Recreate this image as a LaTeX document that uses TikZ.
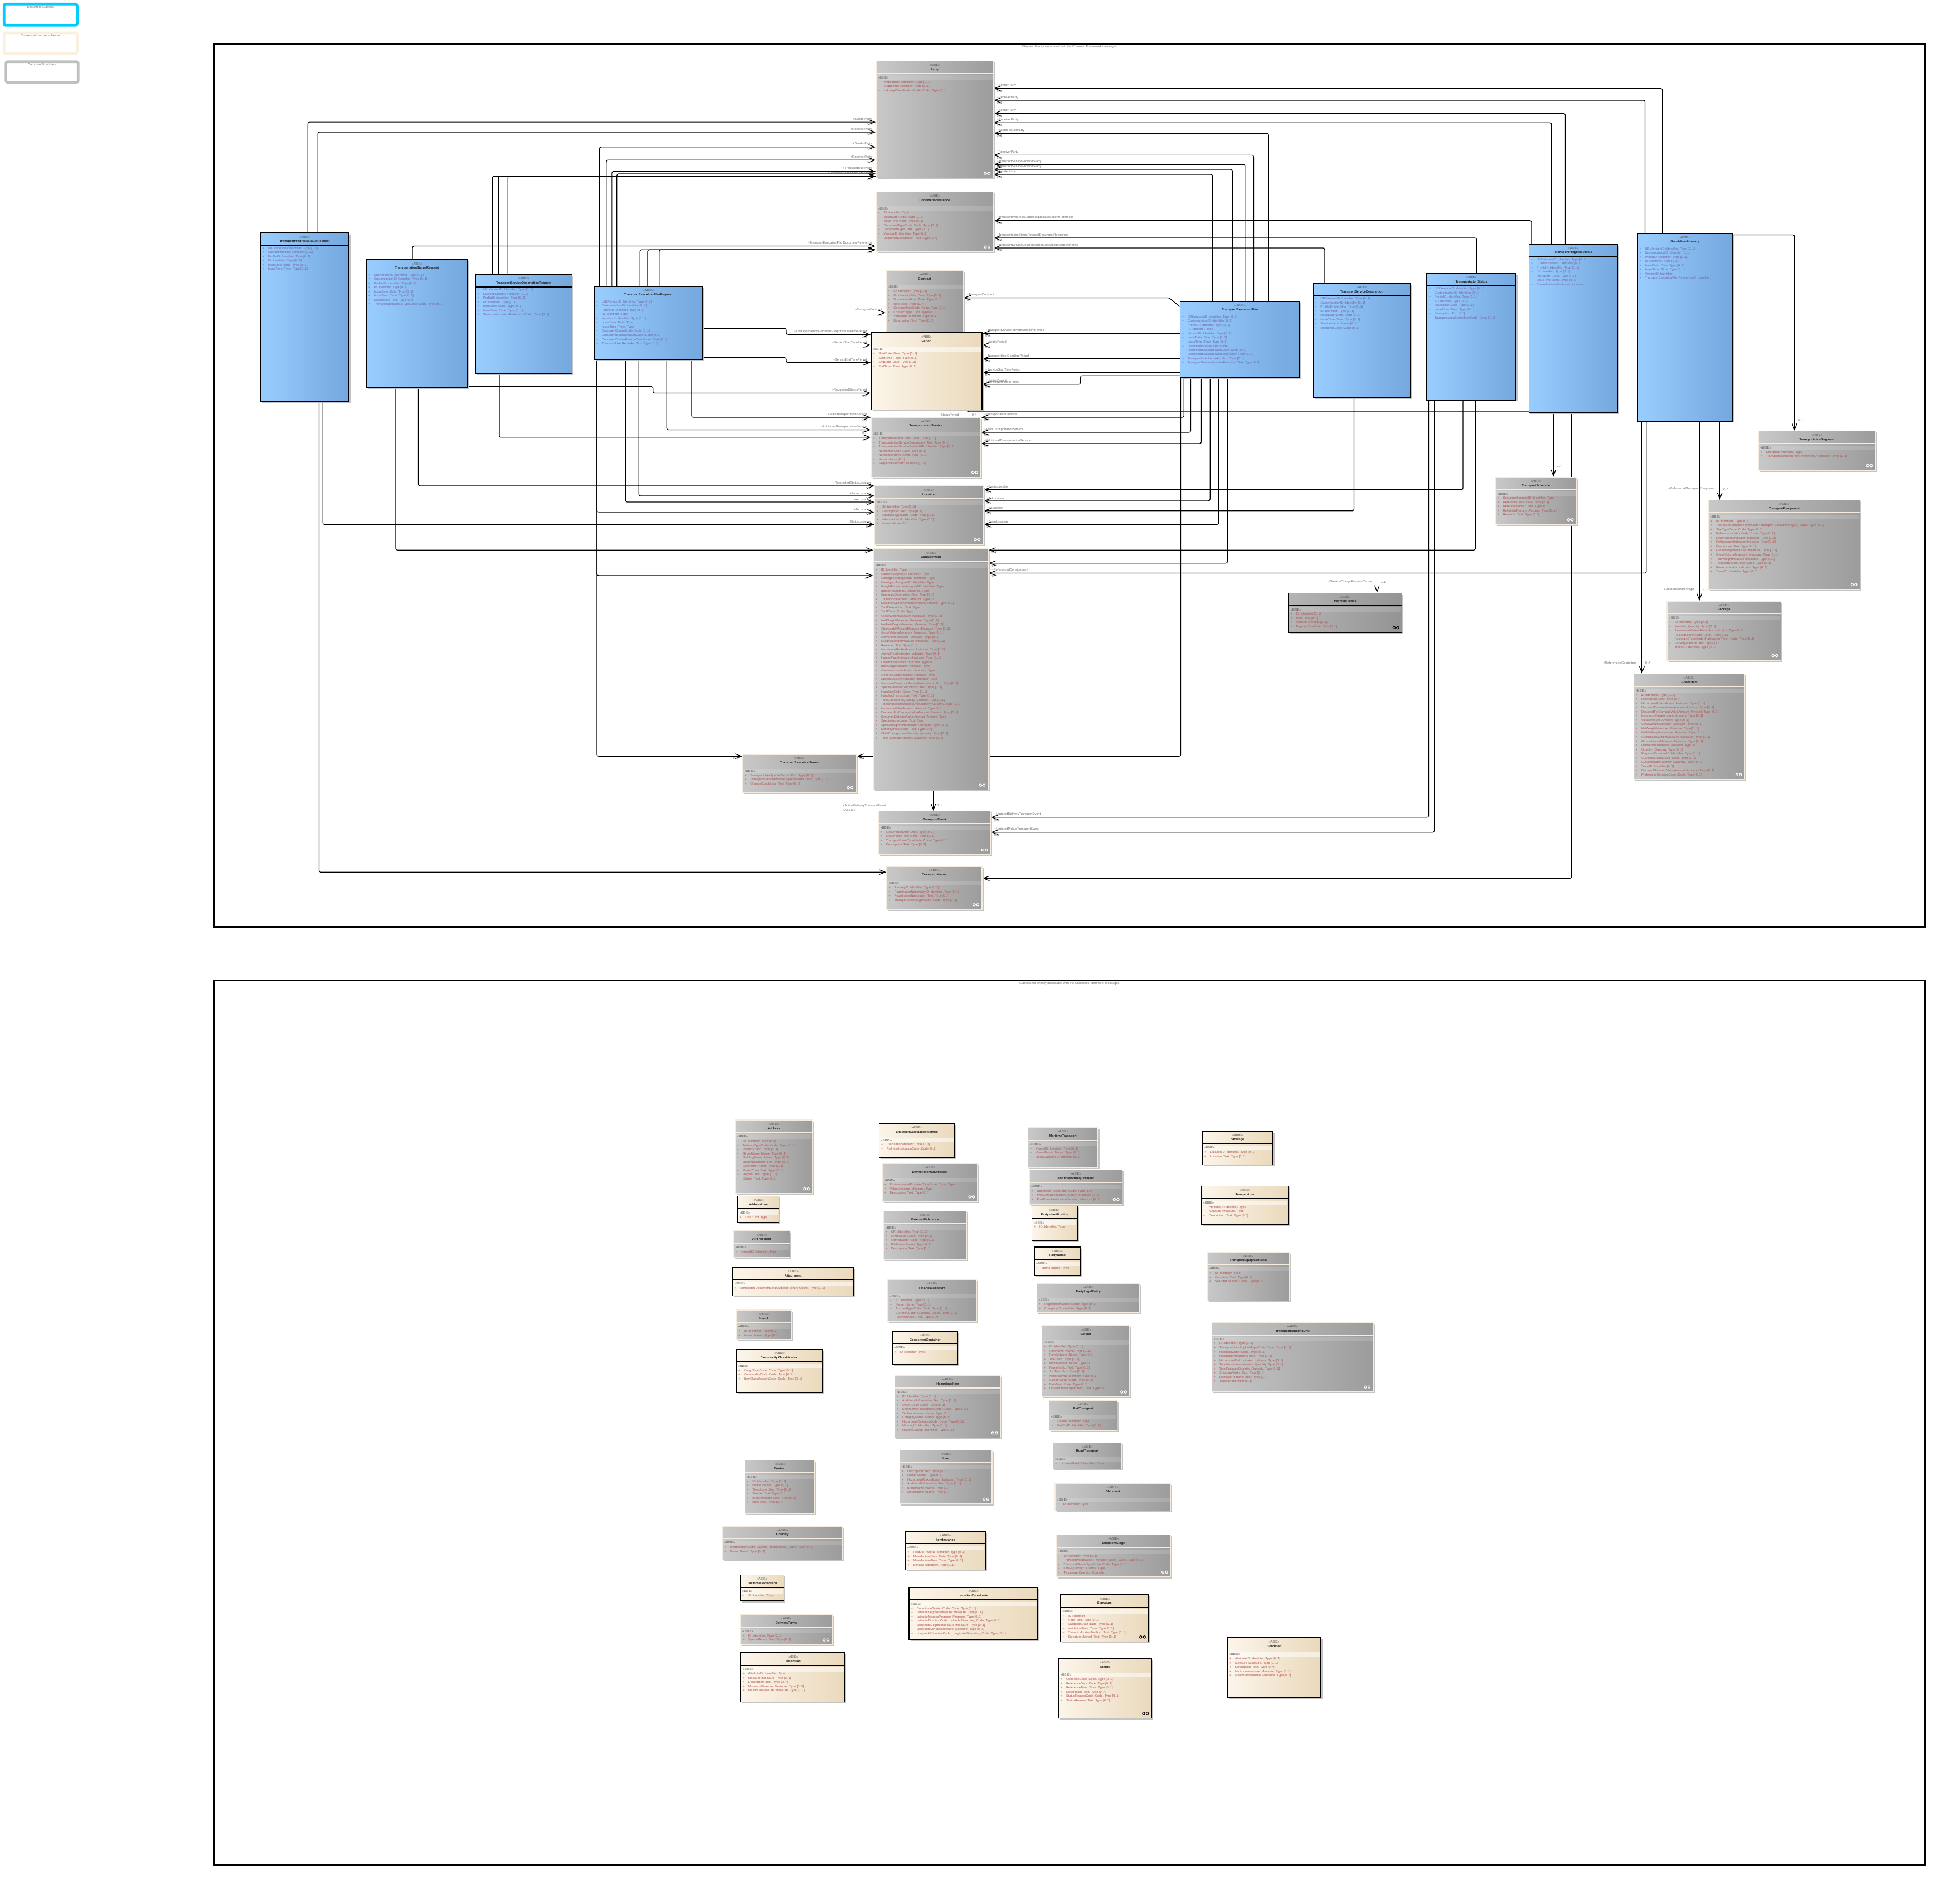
\documentclass[tikz,border=0pt]{standalone}
\usepackage{fontspec}
\setmainfont{Liberation Sans}
\usetikzlibrary{arrows.meta,fit}
\definecolor{blueL}{HTML}{9ACDFF}
\definecolor{blueR}{HTML}{74A8DE}
\definecolor{grayL}{HTML}{C8C8C8}
\definecolor{grayR}{HTML}{9C9C9C}
\definecolor{darkL}{HTML}{B4B4B4}
\definecolor{darkR}{HTML}{949494}
\definecolor{beigeL}{HTML}{FCF5EA}
\definecolor{beigeR}{HTML}{EAD9BC}
\definecolor{edgec}{HTML}{F4ECDE}
\definecolor{shadowc}{HTML}{C4C4C4}
\definecolor{battrc}{HTML}{7468A4}
\definecolor{gattrc}{HTML}{B25656}
\definecolor{stereoc}{HTML}{555555}
\definecolor{namec}{HTML}{222222}
\definecolor{labc}{HTML}{6E6E6E}
\definecolor{legcyan}{HTML}{00CCFF}
\definecolor{legbeige}{HTML}{FAF0E1}
\definecolor{leggray}{HTML}{C0C0C0}
\newcommand\fa{\fontsize{1.6}{1.9}\selectfont}
\pgfdeclarelayer{bg}
\pgfsetlayers{bg,main}
\def\startB{12.3}
\def\startG{17}
\def\startY{17}
\def\startD{17}
\tikzset{
 stereo/.style={font=\fa, text=stereoc, inner sep=0pt},
 cname/.style={font=\fa\bfseries, text=namec, inner sep=0pt},
 Battr/.style={font=\fa, text=battrc, inner sep=0pt},
 Gattr/.style={font=\fa, text=gattrc, inner sep=0pt},
 Yattr/.style={font=\fa, text=gattrc, inner sep=0pt},
 Dattr/.style={font=\fa, text=gattrc, inner sep=0pt},
 Bbbie/.style={font=\fa, text opacity=0, inner sep=0pt},
 Gbbie/.style={font=\fa, text=stereoc, inner sep=0pt},
 Ybbie/.style={font=\fa, text=stereoc, inner sep=0pt},
 Dbbie/.style={font=\fa, text=stereoc, inner sep=0pt},
 Bband/.style={},
 Gband/.style={fill=white, fill opacity=0.15},
 Yband/.style={fill=white, fill opacity=0.55},
 Dband/.style={fill=white, fill opacity=0.15},
 Bsep/.style={draw=black, line width=0.4pt},
 Gsep/.style={draw=edgec, line width=0.4pt},
 Ysep/.style={draw=black, line width=0.4pt},
 Dsep/.style={draw=black, line width=0.4pt},
 Bborder/.style={draw=black, line width=0.45pt},
 Gborder/.style={draw=edgec, line width=0.4pt},
 Yborder/.style={draw=black, line width=0.45pt},
 Dborder/.style={draw=black, line width=0.45pt},
 Bfill/.style={left color=blueL, right color=blueR},
 Gfill/.style={left color=grayL, right color=grayR},
 Yfill/.style={left color=beigeL, right color=beigeR},
 Dfill/.style={left color=darkL, right color=darkR},
 assoc/.style={draw=black, line width=0.35pt, -{Straight Barb[length=1.1mm,width=0.85mm]}, rounded corners=0.3mm},
 lab/.style={font=\fa, text=labc, inner sep=0.2mm},
 ftitle/.style={font=\fa, text=labc, inner sep=0pt},
}
\newcommand\iconxy[3]{%
 \draw[#3, line width=0.3pt] ({#1-6.3},{#2-3.8}) circle[radius=0.22mm] ({#1-3.4},{#2-3.8}) circle[radius=0.22mm];
 \draw[#3, line width=0.3pt] ({#1-5.3},{#2-3.8}) -- ({#1-4.4},{#2-3.8});}
\newcommand\clsbox[9]{%
 \fill[shadowc] ({#3+1.2},{#4+1.2}) rectangle ({#5+1.2},{#6+1.2});
 \shade[#1fill] (#3,#4) rectangle (#5,#6);
 \path[#1band] ({#3+0.7},{#4+11.6}) rectangle ({#5-0.7},{#4+15});
 \draw[#1sep] (#3,{#4+10}) -- (#5,{#4+10});
 \node[#1border, fit={(#3,#4)(#5,#6)}, inner sep=0pt] (#2) {};
 \node[stereo] at ({(#3+#5)/2},{#4+3.2}) {«ABIE»};
 \node[cname] at ({(#3+#5)/2},{#4+6.8}) {#7};
 \node[#1bbie, anchor=west] at ({#3+1.2},{#4+13.3}) {«BBIE»};
 \pgfmathsetmacro\ystart{#4+\csname start#1\endcsname}
 \foreach \t [count=\i from 0] in {#8} {\node[#1attr, anchor=west] at ({#3+1.3},{\ystart+\i*3.37}) {\makebox[1mm][l]{+}\t};}
 \ifcase#9\relax\or\iconxy{#5}{#6}{white}\or\iconxy{#5}{#6}{black}\fi
}
\newcommand\inL[5]{\draw[assoc] #3 (#1.west |- 0,#2);
 \path (#1.west |- 0,#2) node[lab, anchor=south east, xshift=-0.4mm] {#4} node[lab, anchor=north east, xshift=-0.4mm] {#5};}
\newcommand\inR[5]{\draw[assoc] #3 (#1.east |- 0,#2);
 \path (#1.east |- 0,#2) node[lab, anchor=south west, xshift=0.3mm] {#4} node[lab, anchor=north west, xshift=0.3mm] {#5};}
\newcommand\inT[5]{\draw[assoc] #3 (#1.north -| #2,0);
 \path (#1.north -| #2,0) ++(-3,-6.5) node[lab, anchor=south east] {#4} ++(4.5,0) node[lab, anchor=south west] {#5};}
\begin{document}
\begin{tikzpicture}[x=0.2236mm,y=-0.2236mm]
\useasboundingbox (0,0) rectangle (1568,1528);
% legend
\draw[draw=legcyan, line width=0.47mm, rounded corners=0.3mm] (3.25,3.25) rectangle (61.9,20.3);
\node[ftitle] (lg1) at (32.4,5.4) {Document Classes};
\draw[draw=legbeige, line width=0.47mm, rounded corners=0.3mm] (3.25,26.4) rectangle (61.9,43.1);
\node[ftitle] (lg2) at (32.4,28.2) {Classes with no sub-classes};
\draw[draw=leggray, line width=0.47mm, rounded corners=0.3mm] (4.75,49.5) rectangle (62.75,66.1);
\node[ftitle] (lg3) at (33.6,51.5) {Common Structures};
% frames
\draw[line width=0.3mm] (172,35) rectangle (1545,744);
\node[ftitle] (t1) at (858.5,37.4) {Classes directly associated with the Common Framework messages.};
\draw[line width=0.3mm] (172,787) rectangle (1545,1497);
\node[ftitle] (t2) at (858.5,789.4) {Classes not directly associated with the Common Framework messages.};

% ===== top frame classes =====
\clsbox{G}{party}{703}{49}{797}{143}{Party}{WebsiteURI :Identifier. Type [0..1], EndpointID :Identifier. Type [0..1], IndustryClassificationCode :Code. Type [0..1]}{1}
\clsbox{G}{docref}{703}{154}{797}{202}{DocumentReference}{ID :Identifier. Type, IssueDate :Date. Type [0..1], IssueTime :Time. Type [0..1], DocumentTypeCode :Code. Type [0..1], DocumentType :Text. Type [0..1], VersionID :Identifier. Type [0..1], DocumentDescription :Text. Type [0..*]}{1}
\clsbox{G}{contract}{711}{217}{773}{266.5}{Contract}{ID :Identifier. Type [0..1], NominationDate :Date. Type [0..1], NominationTime :Time. Type [0..1], Note :Text. Type [0..*], ContractTypeCode :Code. Type [0..1], ContractType :Text. Type [0..1], VersionID :Identifier. Type [0..1], Description :Text. Type [0..*]}{0}
\clsbox{Y}{period}{699}{267}{788}{329}{Period}{StartDate :Date. Type [0..1], StartTime :Time. Type [0..1], EndDate :Date. Type [0..1], EndTime :Time. Type [0..1]}{0}
\clsbox{G}{tsvc}{699}{335}{787}{383}{TransportationService}{TransportServiceCode :Code. Type [0..1], TransportationServiceDescription :Text. Type [0..1], TransportationServiceDetailsURI :Identifier. Type [0..1], NominationDate :Date. Type [0..1], NominationTime :Time. Type [0..1], Name :Name [0..1], SequenceNumeric :Numeric [0..1]}{1}
\clsbox{G}{location}{702}{390}{789}{437}{Location}{ID :Identifier. Type [0..1], Description :Text. Type [0..1], LocationTypeCode :Code. Type [0..1], InformationURI :Identifier. Type [0..1], Name :Name [0..1]}{1}
\clsbox{G}{consignment}{701}{440.6}{793}{634}{Consignment}{ID :Identifier. Type, CarrierAssignedID :Identifier. Type, ConsigneeAssignedID :Identifier. Type, ConsignorAssignedID :Identifier. Type, FreightForwarderAssignedID :Identifier. Type, BrokerAssignedID :Identifier. Type, SummaryDescription :Text. Type [0..*], TotalInvoiceAmount :Amount. Type [0..1], DeclaredCustomsValueAmount :Amount. Type [0..1], TariffDescription :Text. Type, TariffCode :Code. Type, GrossWeightMeasure :Measure. Type [0..1], NetWeightMeasure :Measure. Type [0..1], NetNetWeightMeasure :Measure. Type [0..1], ChargeableWeightMeasure :Measure. Type [0..1], GrossVolumeMeasure :Measure. Type [0..1], NetVolumeMeasure :Measure. Type [0..1], LoadingLengthMeasure :Measure. Type [0..1], Remarks :Text. Type [0..*], HazardousRiskIndicator :Indicator. Type [0..1], AnimalFoodIndicator :Indicator. Type [0..1], HumanFoodIndicator :Indicator. Type [0..1], LivestockIndicator :Indicator. Type [0..1], BulkCargoIndicator :Indicator. Type, ContainerizedIndicator :Indicator. Type, GeneralCargoIndicator :Indicator. Type, SpecialSecurityIndicator :Indicator. Type, CustomsClearanceServiceInstructions :Text. Type [0..1], SpecialServiceInstructions :Text. Type [0..1], HandlingCode :Code. Type [0..1], HandlingInstructions :Text. Type [0..1], TotalGoodsItemQuantity :Quantity. Type [0..1], TotalTransportHandlingUnitQuantity :Quantity. Type [0..1], InsuranceValueAmount :Amount. Type [0..1], DeclaredForCarriageValueAmount :Amount. Type [0..1], DeclaredStatisticsValueAmount :Amount. Type, SpecialInstructions :Text. Type, SplitConsignmentIndicator :Indicator. Type [0..1], DeliveryInstructions :Text. Type [0..*], ChildConsignmentQuantity :Quantity. Type [0..1], TotalPackagesQuantity :Quantity. Type [0..1]}{1}
\clsbox{G}{tet}{596}{605.5}{687}{636}{TransportExecutionTerms}{TransportUserSpecialTerms :Text. Type [0..*], TransportServiceProviderSpecialTerms :Text. Type [0..*], ChangeConditions :Text. Type [0..*]}{1}
\clsbox{G}{tevent}{705}{651}{795}{686}{TransportEvent}{OccurrenceDate :Date. Type [0..1], OccurrenceTime :Time. Type [0..1], TransportEventTypeCode :Code. Type [0..1], Description :Text. Type [0..1]}{1}
\clsbox{G}{tmeans}{711.5}{695.5}{788}{730}{TransportMeans}{JourneyID :Identifier. Type [0..1], RegistrationNationalityID :Identifier. Type [0..1], RegistrationNationality :Text. Type [0..*], TransportMeansTypeCode :Code. Type [0..1]}{1}

\clsbox{B}{tpsr}{209}{187}{280}{322}{TransportProgressStatusRequest}{UBLVersionID :Identifier. Type [0..1], CustomizationID :Identifier [0..1], ProfileID :Identifier. Type [0..1], ID :Identifier. Type [0..1], IssueDate :Date. Type [0..1], IssueTime :Time. Type [0..1]}{0}
\clsbox{B}{tsr}{294}{208.5}{375}{311}{TransportationStatusRequest}{UBLVersionID :Identifier. Type [0..1], CustomizationID :Identifier. Type [0..1], ProfileID :Identifier. Type [0..1], ID :Identifier. Type [0..1], IssueDate :Date. Type [0..1], IssueTime :Time. Type [0..1], Description :Text. Type [0..*], TransportationStatusTypeCode :Code. Type [0..1]}{0}
\clsbox{B}{tsdr}{381.6}{220.4}{459}{299.6}{TransportServiceDescriptionRequest}{UBLVersionID :Identifier. Type [0..1], CustomizationID :Identifier [0..1], ProfileID :Identifier. Type [0..1], ID :Identifier. Type [0..1], IssueDate :Date. Type [0..1], IssueTime :Time. Type [0..1], ServiceInformationPreferenceCode :Code [0..1]}{0}
\clsbox{B}{tepr}{477}{230}{563.5}{288.5}{TransportExecutionPlanRequest}{UBLVersionID :Identifier. Type [0..1], CustomizationID :Identifier [0..1], ProfileID :Identifier. Type [0..1], ID :Identifier. Type, VersionID :Identifier. Type [0..1], IssueDate :Date. Type, IssueTime :Time. Type, DocumentStatusCode :Code [0..1], DocumentStatusReasonCode :Code [0..1], DocumentStatusReasonDescription :Text [0..1], TransportUserRemarks :Text. Type [0..*]}{0}
\clsbox{B}{tep}{947}{242}{1043}{303}{TransportExecutionPlan}{UBLVersionID :Identifier. Type [0..1], CustomizationID :Identifier [0..1], ProfileID :Identifier. Type [0..1], ID :Identifier. Type, VersionID :Identifier. Type [0..1], IssueDate :Date. Type [0..1], IssueTime :Time. Type [0..1], DocumentStatusCode :Code, DocumentStatusReasonCode :Code [0..1], DocumentStatusReasonDescription :Text [0..1], TransportUserRemarks :Text. Type [0..*], TransportServiceProviderRemarks :Text. Type [0..*]}{0}
\clsbox{B}{tsd}{1053.6}{227.5}{1132}{319}{TransportServiceDescription}{UBLVersionID :Identifier. Type [0..1], CustomizationID :Identifier [0..1], ProfileID :Identifier. Type [0..1], ID :Identifier. Type [0..1], IssueDate :Date. Type [0..1], IssueTime :Time. Type [0..1], ServiceName :Name [0..1], ResponseCode :Code [0..1]}{0}
\clsbox{B}{ts}{1145}{219.5}{1216.5}{321}{TransportationStatus}{UBLVersionID :Identifier. Type [0..1], CustomizationID :Identifier [0..1], ProfileID :Identifier. Type [0..1], ID :Identifier. Type [0..1], IssueDate :Date. Type [0..1], IssueTime :Time. Type [0..1], Description :Text [0..*], TransportationStatusTypeCode :Code [0..1]}{0}
\clsbox{B}{tps}{1227}{196}{1298}{331}{TransportProgressStatus}{UBLVersionID :Identifier. Type [0..1], CustomizationID :Identifier [0..1], ProfileID :Identifier. Type [0..1], ID :Identifier. Type [0..1], IssueDate :Date. Type [0..1], IssueTime :Time. Type [0..1], StatusAvailableIndicator :Indicator}{0}
\clsbox{B}{gii}{1314}{187.5}{1390}{338}{GoodsItemItinerary}{UBLVersionID :Identifier. Type [0..1], CustomizationID :Identifier [0..1], ProfileID :Identifier. Type [0..1], ID :Identifier. Type [0..1], IssueDate :Date. Type [0..1], IssueTime :Time. Type [0..1], VersionID :Identifier, TransportExecutionPlanReferenceID :Identifier}{0}

\clsbox{G}{tseg}{1411}{346}{1505}{377.5}{TransportationSegment}{Sequence :Numeric. Type, TransportExecutionPlanReferenceID :Identifier. Type [0..1]}{1}
\clsbox{G}{tsched}{1200}{383}{1265}{421}{TransportSchedule}{SequenceNumberID :Identifier. Type, ReferenceDate :Date. Type [0..1], ReferenceTime :Time. Type [0..1], ReliabilityPercent :Percent. Type [0..1], Remarks :Text. Type [0..*]}{1}
\clsbox{G}{tequip}{1371}{401.5}{1492.6}{473}{TransportEquipment}{ID :Identifier. Type [0..1], TransportEquipmentTypeCode :Transport Equipment Type\_ Code. Type [0..1], SizeTypeCode :Code. Type [0..1], FullnessIndicationCode :Code. Type [0..1], ReturnabilityIndicator :Indicator. Type [0..1], RefrigeratedIndicator :Indicator. Type [0..1], Description :Text. Type [0..1], GrossWeightMeasure :Measure. Type [0..1], GrossVolumeMeasure :Measure. Type [0..1], TareWeightMeasure :Measure. Type [0..1], TrackingDeviceCode :Code. Type [0..1], PowerIndicator :Indicator. Type [0..1], TraceID :Identifier. Type [0..1]}{1}
\clsbox{D}{payterms}{1034}{476}{1125}{507.6}{PaymentTerms}{ID :Identifier [0..1], Note :Text [0..*], Amount :Amount [0..1], PaymentDueDate :Date [0..1]}{2}
\clsbox{G}{package}{1337.7}{482.6}{1429}{530}{Package}{ID :Identifier. Type [0..1], Quantity :Quantity. Type [0..1], ReturnableMaterialIndicator :Indicator. Type [0..1], PackageLevelCode :Code. Type [0..1], PackagingTypeCode :Packaging Type\_ Code. Type [0..1], PackingMaterial :Text. Type [0..*], TraceID :Identifier. Type [0..1]}{1}
\clsbox{G}{goodsitem}{1311}{541}{1400}{625.7}{GoodsItem}{ID :Identifier. Type [0..1], Description :Text. Type [0..*], HazardousRiskIndicator :Indicator. Type [0..1], DeclaredCustomsValueAmount :Amount. Type [0..1], DeclaredForCarriageValueAmount :Amount. Type [0..1], InsuranceValueAmount :Amount. Type [0..1], ValueAmount :Amount. Type [0..1], GrossWeightMeasure :Measure. Type [0..1], NetWeightMeasure :Measure. Type [0..1], NetNetWeightMeasure :Measure. Type [0..1], ChargeableWeightMeasure :Measure. Type [0..1], GrossVolumeMeasure :Measure. Type [0..1], NetVolumeMeasure :Measure. Type [0..1], Quantity :Quantity. Type [0..1], RequiredCustomsID :Identifier. Type [0..1], CustomsStatusCode :Code. Type [0..1], CustomsTariffQuantity :Quantity. Type [0..1], TraceID :Identifier [0..1], DeclaredStatisticsValueAmount :Amount. Type [0..1], PreferenceCriterionCode :Code. Type [0..1]}{1}

% ===== bottom frame classes =====
\clsbox{G}{address}{590}{899}{652}{958}{Address}{ID :Identifier. Type [0..1], AddressTypeCode :Code. Type [0..1], Postbox :Text. Type [0..1], StreetName :Name. Type [0..1], BuildingName :Name. Type [0..1], BuildingNumber :Text. Type [0..1], CityName :Name. Type [0..1], PostalZone :Text. Type [0..1], Region :Text. Type [0..1], District :Text. Type [0..1]}{1}
\clsbox{Y}{addressline}{592}{960}{625}{981}{AddressLine}{Line :Text. Type}{0}
\clsbox{G}{airtransport}{588.6}{988}{634}{1009}{AirTransport}{AircraftID :Identifier. Type}{0}
\clsbox{Y}{attachment}{588}{1017}{685}{1040}{Attachment}{EmbeddedDocumentBinaryObject :Binary Object. Type [0..1]}{0}
\clsbox{G}{branch}{591}{1051.5}{635}{1075}{Branch}{ID :Identifier. Type [0..1], Name :Name. Type [0..1]}{0}
\clsbox{Y}{commodity}{591}{1083}{660}{1117.6}{CommodityClassification}{CargoTypeCode :Code. Type [0..1], CommodityCode :Code. Type [0..1], ItemClassificationCode :Code. Type [0..1]}{0}
\clsbox{G}{contact}{597.8}{1172}{653.7}{1215}{Contact}{ID :Identifier. Type [0..1], Name :Name. Type [0..1], Telephone :Text. Type [0..1], Telefax :Text. Type [0..1], ElectronicMail :Text. Type [0..1], Note :Text. Type [0..*]}{0}
\clsbox{G}{country}{579.6}{1225}{676}{1252}{Country}{IdentificationCode :Country Identification\_ Code. Type [0..1], Name :Name. Type [0..1]}{0}
\clsbox{Y}{customsdecl}{594}{1264}{629}{1285}{CustomsDeclaration}{ID :Identifier. Type}{0}
\clsbox{G}{deliveryterms}{594.4}{1296}{667.7}{1320}{DeliveryTerms}{ID :Identifier. Type [0..1], SpecialTerms :Text. Type [0..1]}{1}
\clsbox{Y}{dimension}{594.4}{1326.5}{677.8}{1366}{Dimension}{AttributeID :Identifier. Type, Measure :Measure. Type [0..1], Description :Text. Type [0..*], MinimumMeasure :Measure. Type [0..1], MaximumMeasure :Measure. Type [0..1]}{0}
\clsbox{Y}{emission}{705.5}{901.8}{766}{929}{EmissionCalculationMethod}{CalculationMethod :Code [0..1], FullnessIndicationCode :Code [0..1]}{0}
\clsbox{G}{envemission}{708}{934}{784.5}{964.4}{EnvironmentalEmission}{EnvironmentalEmissionTypeCode :Code. Type, ValueMeasure :Measure. Type, Description :Text. Type [0..*]}{1}
\clsbox{G}{extref}{709}{972}{775.7}{1011}{ExternalReference}{URI :Identifier. Type [0..1], MimeCode :Code. Type [0..1], FormatCode :Code. Type [0..1], FileName :Name. Type [0..1], Description :Text. Type [0..*]}{0}
\clsbox{G}{finaccount}{712.5}{1027}{783.6}{1060.5}{FinancialAccount}{ID :Identifier. Type [0..1], Name :Name. Type [0..1], AccountTypeCode :Code. Type [0..1], CurrencyCode :Currency\_ Code. Type [0..1], PaymentNote :Text. Type [0..*]}{0}
\clsbox{Y}{gicontainer}{716}{1068.5}{768.6}{1095}{GoodsItemContainer}{ID :Identifier. Type}{0}
\clsbox{G}{hazitem}{718}{1104}{803}{1154}{HazardousItem}{ID :Identifier. Type [0..1], AdditionalInformation :Text. Type [0..1], UNDGCode :Code. Type [0..1], EmergencyProceduresCode :Code. Type [0..1], TechnicalName :Name. Type [0..1], CategoryName :Name. Type [0..1], HazardousCategoryCode :Code. Type [0..1], MarkingID :Identifier. Type [0..1], HazardClassID :Identifier. Type [0..1]}{1}
\clsbox{G}{item}{722}{1164}{796}{1207}{Item}{Description :Text. Type [0..*], Name :Name. Type [0..1], HazardousRiskIndicator :Indicator. Type [0..1], AdditionalInformation :Text. Type [0..1], BrandName :Name. Type [0..*], ModelName :Name. Type [0..*]}{1}
\clsbox{Y}{iteminstance}{726.7}{1229}{790.7}{1260}{ItemInstance}{ProductTraceID :Identifier. Type [0..1], ManufactureDate :Date. Type [0..1], ManufactureTime :Time. Type [0..1], SerialID :Identifier. Type [0..1]}{0}
\clsbox{Y}{loccoord}{729.5}{1274}{832.7}{1316}{LocationCoordinate}{CoordinateSystemCode :Code. Type [0..1], LatitudeDegreesMeasure :Measure. Type [0..1], LatitudeMinutesMeasure :Measure. Type [0..1], LatitudeDirectionCode :Latitude Direction\_ Code. Type [0..1], LongitudeDegreesMeasure :Measure. Type [0..1], LongitudeMinutesMeasure :Measure. Type [0..1], LongitudeDirectionCode :Longitude Direction\_ Code. Type [0..1]}{0}
\clsbox{G}{maritime}{825}{905}{881}{937}{MaritimeTransport}{VesselID :Identifier. Type [0..1], VesselName :Name. Type [0..1], RadioCallSignID :Identifier [0..1]}{0}
\clsbox{G}{notifreq}{826}{939}{900.5}{966.5}{NotificationRequirement}{NotificationTypeCode :Code. Type [1..*], PreEventNotificationDuration :Measure [0..1], PostEventNotificationDuration :Measure [0..1]}{1}
\clsbox{Y}{partyident}{828}{968}{864.5}{995.5}{PartyIdentification}{ID :Identifier. Type}{0}
\clsbox{Y}{partyname}{830}{1001}{867}{1024}{PartyName}{Name :Name. Type}{0}
\clsbox{G}{partylegal}{832}{1030}{914.6}{1053.6}{PartyLegalEntity}{RegistrationName :Name. Type [0..1], CompanyID :Identifier. Type [0..1]}{0}
\clsbox{G}{person}{836}{1064}{906.5}{1121}{Person}{ID :Identifier. Type [0..1], FirstName :Name. Type [0..1], FamilyName :Name. Type [0..1], Title :Text. Type [0..1], MiddleName :Name. Type [0..1], NameSuffix :Text. Type [0..1], JobTitle :Text. Type [0..1], NationalityID :Identifier. Type [0..1], GenderCode :Code. Type [0..1], BirthDate :Date. Type [0..1], OrganizationDepartment :Text. Type [0..1]}{1}
\clsbox{G}{rail}{842}{1124}{896.5}{1148}{RailTransport}{TrainID :Identifier. Type, RailCarID :Identifier. Type [0..1]}{0}
\clsbox{G}{road}{845}{1158}{900}{1179}{RoadTransport}{LicensePlateID :Identifier. Type}{0}
\clsbox{G}{shipment}{846.6}{1190.5}{939.5}{1212.6}{Shipment}{ID :Identifier. Type}{0}
\clsbox{G}{shipmentstage}{847.5}{1232}{939.5}{1265.6}{ShipmentStage}{ID :Identifier. Type [0..1], TransportModeCode :Transport Mode\_ Code. Type [0..1], TransportMeansTypeCode :Code. Type [0..1], CrewQuantity :Quantity. Type, PassengerQuantity :Quantity}{1}
\clsbox{Y}{signature}{851}{1280}{921.7}{1317.7}{Signature}{ID :Identifier, Note :Text. Type [0..1], ValidationDate :Date. Type [0..1], ValidationTime :Time. Type [0..1], CanonicalizationMethod :Text. Type [0..1], SignatureMethod :Text. Type [0..1]}{2}
\clsbox{Y}{status}{849.5}{1331}{924}{1379}{Status}{ConditionCode :Code. Type [0..1], ReferenceDate :Date. Type [0..1], ReferenceTime :Time. Type [0..1], Description :Text. Type [0..*], StatusReasonCode :Code. Type [0..1], StatusReason :Text. Type [0..*]}{2}
\clsbox{Y}{stowage}{964.7}{908}{1021.5}{935}{Stowage}{LocationID :Identifier. Type [0..1], Location :Text. Type [0..*]}{0}
\clsbox{Y}{temperature}{964}{952}{1034}{983}{Temperature}{AttributeID :Identifier. Type, Measure :Measure. Type, Description :Text. Type [0..*]}{0}
\clsbox{G}{teseal}{968.8}{1005}{1034.5}{1044}{TransportEquipmentSeal}{ID :Identifier. Type, Condition :Text. Type [0..1], SealStatusCode :Code. Type [0..1]}{0}
\clsbox{G}{thu}{972.5}{1061.5}{1102}{1117}{TransportHandlingUnit}{ID :Identifier. Type [0..1], TransportHandlingUnitTypeCode :Code. Type [0..1], HandlingCode :Code. Type [0..1], HandlingInstructions :Text. Type [0..1], HazardousRiskIndicator :Indicator. Type [0..1], TotalGoodsItemQuantity :Quantity. Type [0..1], TotalPackageQuantity :Quantity. Type [0..1], ShippingMarks :Text. Type [0..*], DamageRemarks :Text. Type [0..*], TraceID :Identifier [0..1]}{1}
\clsbox{Y}{condition}{985}{1314.5}{1060}{1362.5}{Condition}{AttributeID :Identifier. Type [0..1], Measure :Measure. Type [0..1], Description :Text. Type [0..*], MinimumMeasure :Measure. Type [0..1], MaximumMeasure :Measure. Type [0..*]}{0}

% ===== connectors =====
\begin{pgfonlayer}{bg}
% into Party (west)
\inL{party}{98}{(tpsr.north -| 247,0) |-}{+SenderParty}{0..1}
\inL{party}{106}{(tpsr.north -| 255,0) |-}{+ReceiverParty}{0..1}
\inL{party}{118}{(tepr.north -| 481,0) |-}{+SenderParty}{0..1}
\inL{party}{128.5}{(tepr.north -| 486.5,0) |-}{+ReceiverParty}{0..1}
\inL{party}{137.5}{(tepr.north -| 491,0) |-}{+TransportUserParty}{}
\inL{party}{139.5}{(tepr.north -| 495,0) |-}{}{}
\inL{party}{141.5}{(tsdr.north -| 395,0) |-}{+TransportServiceProviderParty}{0..1}
\inL{party}{141.5}{(tsdr.north -| 400,0) |-}{}{}
\inL{party}{141.5}{(tsdr.north -| 407.5,0) |-}{}{}
% into DocumentReference (west)
\inL{docref}{197.5}{(tsr.north -| 331,0) |-}{+TransportExecutionPlanDocumentReference}{}
\inL{docref}{200.5}{(tepr.north -| 513.5,0) |-}{}{0..1}
\inL{docref}{200.5}{(tepr.north -| 519.7,0) |-}{}{}
\inL{docref}{200.5}{(tepr.north -| 529,0) |-}{}{}
% into Contract / Period (west)
\inL{contract}{251}{(tepr.east |- 0,251) --}{+TransportContract}{0..1}
\inL{period}{268.5}{(tepr.east |- 0,263.5) -| (631,268.5) --}{+TransportServiceProviderResponseDeadlinePeriod}{0..1}
\inL{period}{277}{(tepr.east |- 0,277) --}{+ServiceStartTimePeriod}{1}
\inL{period}{291}{(tepr.east |- 0,287) -| (631,291) --}{+ServiceEndTimePeriod}{0..1}
\inL{period}{315.5}{(tsr.east |- 0,310.3) -| (524,315.5) --}{+RequestedStatusPeriod}{0..*}
% into TransportationService (west)
\inL{tsvc}{335}{(tepr.south -| 555,0) |-}{+MainTransportationService}{0..1}
\inL{tsvc}{345}{(tepr.south -| 535,0) |-}{+AdditionalTransportationService}{0..*}
\inL{tsvc}{351}{(tsdr.south -| 400.7,0) |-}{}{1..*}
% into Location (west)
\inL{location}{390}{(tsr.south -| 335.6,0) |-}{+RequestedStatusLocation}{0..1}
\inL{location}{398}{(tepr.south -| 512.6,0) |-}{+FromLocation}{0..1}
\inL{location}{403}{(tepr.south -| 502,0) |-}{+AtLocation}{0..1}
\inL{location}{411}{(tepr.south -| 479,0) |-}{+ToLocation}{0..1}
\inL{location}{421}{(tpsr.south -| 259,0) |-}{+StatusLocation}{0..*}
% into Consignment / TET / TransportMeans (west)
\inL{consignment}{441.5}{(tsr.south -| 317.5,0) |-}{}{0..*}
\inL{consignment}{462}{(tepr.south -| 479,0) |-}{}{1..*}
\inL{tet}{607}{(tepr.south -| 479,0) |-}{}{0..1}
\inL{tmeans}{700}{(tpsr.south -| 256,0) |-}{}{}
% into Party (east)
\inR{party}{71}{(gii.north -| 1334,0) |-}{+SenderParty}{0..1}
\inR{party}{80.5}{(gii.north -| 1320,0) |-}{+ReceiverParty}{0..1}
\inR{party}{91}{(tps.north -| 1256,0) |-}{+SenderParty}{0..1}
\inR{party}{98.5}{(tps.north -| 1245,0) |-}{+ReceiverParty}{0..1}
\inR{party}{107}{(tep.north -| 1018,0) |-}{+SourceIssuerParty}{0..1}
\inR{party}{124.5}{(tep.north -| 1006,0) |-}{+ReceiverParty}{0..1}
\inR{party}{132}{(tep.north -| 999,0) |-}{+TransportServiceProviderParty}{0..1}
\inR{party}{136}{(tep.north -| 989,0) |-}{+TransportServiceProviderParty}{0..1}
\inR{party}{140}{(tep.north -| 973,0) |-}{+SenderParty}{0..1}
% into DocumentReference (east)
\inR{docref}{177}{(tps.north -| 1229,0) |-}{+TransportProgressStatusRequestDocumentReference}{0..1}
\inR{docref}{191}{(ts.north -| 1185,0) |-}{+TransportationStatusRequestDocumentReference}{0..1}
\inR{docref}{199}{(tsd.north -| 1063,0) |-}{+TransportServiceDescriptionRequestDocumentReference}{0..1}
% into Contract / Period (east)
\inR{contract}{239}{(tep.west |- 0,246) -- (938,239) --}{+TransportContract}{0..1}
\inR{period}{267.5}{(tep.west |- 0,267.5) --}{+TransportServiceProviderDeadlinePeriod}{0..1}
\inR{period}{277}{(tep.west |- 0,277) --}{+ValidityPeriod}{0..1}
\inR{period}{288}{(tep.west |- 0,288) --}{+TransportUserDeadlinePeriod}{0..1}
\inR{period}{299}{(tep.west |- 0,299) --}{+ServiceStartTimePeriod}{0..1}
\inR{period}{308.5}{(tep.west |- 0,301.5) -| (867,308.5) --}{+ServiceEndTimePeriod}{0..1}
\inR{period}{308.5}{(tsd.west |- 0,308.5) --}{+ValidityPeriod}{}
\draw[assoc] (tps.west |- 0,330.5) -| (period.south -| 776,0);
\path (776,331) node[lab, anchor=north east, xshift=-1.2mm] {+StatusPeriod} node[lab, anchor=north west, xshift=0.6mm] {0..*};
% into TransportationService (east)
\inR{tsvc}{335}{(tep.south -| 950,0) |-}{+TransportationService}{0..*}
\inR{tsvc}{347}{(tep.south -| 955.5,0) |-}{+MainTransportationService}{0..1}
\inR{tsvc}{356}{(tep.south -| 964,0) |-}{+AdditionalTransportationService}{0..*}
% into Location (east)
\inR{location}{393}{(ts.south -| 1174,0) |-}{+StatusLocation}{0..*}
\inR{location}{402}{(tep.south -| 971,0) |-}{+ToLocation}{0..1}
\inR{location}{410}{(tsd.south -| 1086.5,0) |-}{+AtLocation}{0..1}
\inR{location}{421}{(tep.south -| 978,0) |-}{+FromLocation}{0..1}
% into Consignment (east)
\inR{consignment}{441.5}{(ts.south -| 1184,0) |-}{}{0..*}
\inR{consignment}{452}{(tep.south -| 985,0) |-}{}{0..*}
\inR{consignment}{460}{(gii.south -| 1321,0) |-}{+ReferencedConsignment}{0..*}
% into TET / TransportEvent / TransportMeans (east)
\inR{tet}{607}{(tep.south -| 947.5,0) |-}{}{0..1}
\inR{tevent}{656}{(ts.south -| 1146.5,0) |-}{+UpdatedDeliveryTransportEvent}{0..1}
\inR{tevent}{668}{(ts.south -| 1151,0) |-}{+UpdatedPickupTransportEvent}{0..1}
\inR{tmeans}{705}{(tps.south -| 1261,0) |-}{}{}
% Consignment -> TransportEvent
\draw[assoc] (consignment.south -| 749,0) -- (tevent.north -| 749,0);
\node[lab, anchor=west, inner sep=0pt] (adte) at (676,646.5) {+ActualDeliveryTransportEvent};
\node[lab, anchor=west, inner sep=0pt] (asb) at (676,650) {«ASBIE»};
\node[lab, anchor=west, inner sep=0pt] (m01) at (751.5,646.5) {0..1};
% right cluster
\draw[assoc] (gii.east |- 0,188.5) -| (tseg.north -| 1440,0);
\node[lab, anchor=south west] (mts) at (1441.5,339.5) {0..*};
\inT{tsched}{1246.5}{(tps.south -| 1246.5,0) --}{}{0..*}
\inT{tequip}{1380}{(gii.south -| 1380,0) --}{+ReferencedTransportEquipment}{0..*}
\inT{package}{1363.6}{(gii.south -| 1363.6,0) --}{+ReferencedPackage}{0..*}
\inT{goodsitem}{1317.5}{(gii.south -| 1317.5,0) --}{+ReferencedGoodsItem}{0..*}
\inT{payterms}{1105}{(tsd.south -| 1105,0) --}{+ServiceChargePaymentTerms}{0..1}
\end{pgfonlayer}
\end{tikzpicture}
\end{document}
